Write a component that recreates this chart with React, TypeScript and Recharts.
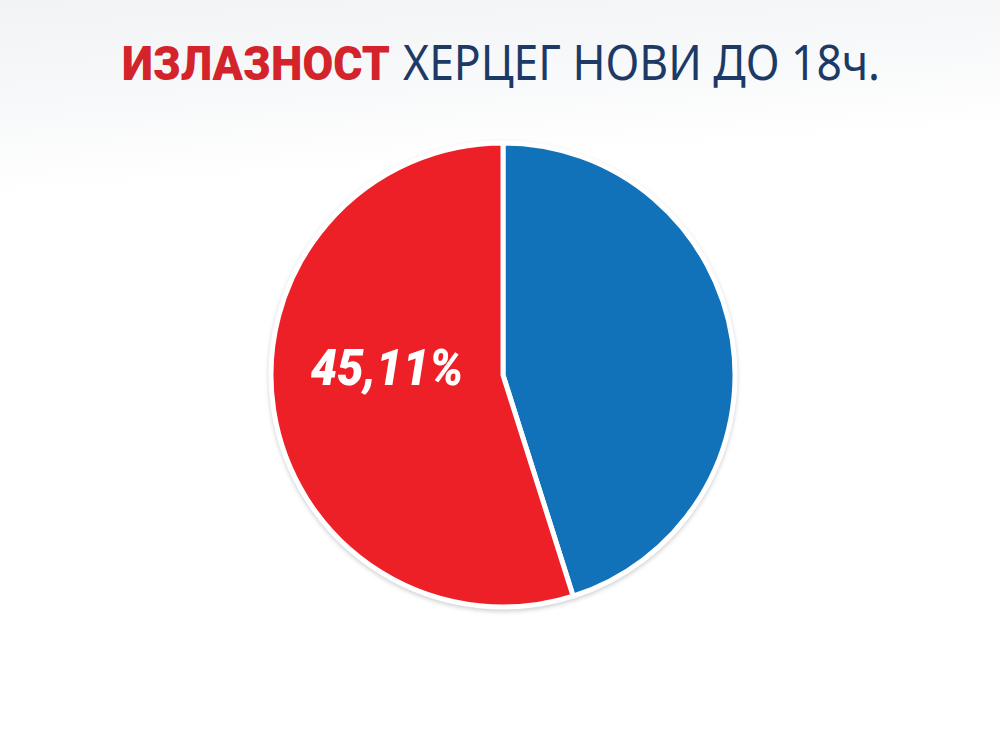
import React from 'react';
import { PieChart, Pie, Cell } from 'recharts';

// turnout share vs. rest
const sliceNames = ['Изашло', 'Није изашло'];
const sliceValues = [45.11, 54.89];
const sliceColors = ['#1172B9', '#ED1F27'];

const titleBold = 'ИЗЛАЗНОСТ';
const titleRest = 'ХЕРЦЕГ НОВИ ДО 18ч.';

const formatPct = (v: number) => v.toFixed(2).replace('.', ',') + '%';

const TurnoutLabel = (props: any) => {
  const { cx, cy, outerRadius, index } = props;
  // the percentage sits on the red slice, left of centre
  if (index !== 1) return null;
  return (
    <text
      x={cx - outerRadius * 0.83}
      y={cy + 10}
      fill="#ffffff"
      fontFamily="Roboto, Lato, sans-serif"
      fontWeight={900}
      fontStyle="italic"
      fontSize={50}
      textLength={153}
      lengthAdjust="spacingAndGlyphs"
    >
      {formatPct(sliceValues[0])}
    </text>
  );
};

const App: React.FC = () => {
  const data = sliceNames.map((name, i) => ({ name, value: sliceValues[i] }));

  return (
    <div
      style={{
        position: 'absolute',
        left: 0,
        top: 0,
        width: 1000,
        height: 750,
        background: 'linear-gradient(176deg, #f1f3f4 0%, #f8f9fa 14%, #ffffff 24%, #ffffff 100%)',
        overflow: 'hidden',
      }}
    >
      <svg width={1000} height={110} style={{ position: 'absolute', left: 0, top: 0 }}>
        <text
          x={122}
          y={80}
          fill="#D4242B"
          fontFamily="Roboto, 'Open Sans', sans-serif"
          fontWeight={900}
          fontSize={49}
          textLength={268}
          lengthAdjust="spacingAndGlyphs"
        >
          {titleBold}
        </text>
        <text
          x={403}
          y={80}
          fill="#1D3A66"
          fontFamily="'Noto Sans', 'Open Sans', sans-serif"
          fontWeight={400}
          fontSize={49}
          textLength={477}
          lengthAdjust="spacingAndGlyphs"
        >
          {titleRest}
        </text>
      </svg>
      <div style={{ position: 'absolute', left: 0, top: 0, filter: 'drop-shadow(0px 2px 2px rgba(0,0,0,0.18))' }}>
        <PieChart width={1000} height={750} margin={{ top: 0, right: 0, bottom: 0, left: 0 }}>
          <Pie
            data={data}
            dataKey="value"
            nameKey="name"
            cx={503}
            cy={375}
            outerRadius={232}
            startAngle={90}
            endAngle={-270}
            stroke="#ffffff"
            strokeWidth={5}
            label={TurnoutLabel}
            labelLine={false}
            isAnimationActive={false}
          >
            {data.map((d, i) => (
              <Cell key={d.name} fill={sliceColors[i]} />
            ))}
          </Pie>
        </PieChart>
      </div>
    </div>
  );
};

export default App;
